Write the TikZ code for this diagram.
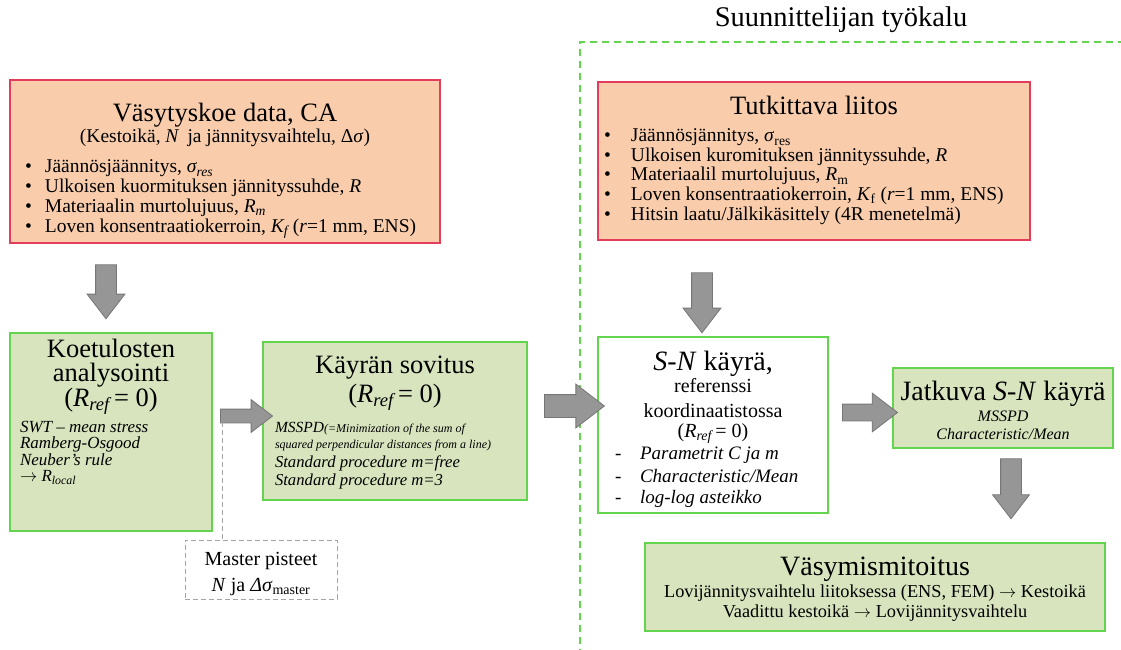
\documentclass[tikz,border=0pt]{standalone}
\usepackage{fontspec}
\setmainfont{Liberation Serif}
\usepackage{xcolor}
\usetikzlibrary{shapes.arrows, positioning}

\definecolor{peachfill}{RGB}{249,205,172}
\definecolor{peachdraw}{RGB}{226,62,92}
\definecolor{olivefill}{RGB}{216,228,190}
\definecolor{greendraw}{RGB}{98,212,78}
\definecolor{arrowfill}{RGB}{150,150,150}
\definecolor{arrowdraw}{RGB}{118,118,118}
\definecolor{masterdraw}{RGB}{165,165,165}

\newlength{\listw}
\newlength{\listind}
\newcommand{\hd}{\fontsize{26.5}{28}\selectfont}
\newcommand{\hdl}{\fontsize{28}{30}\selectfont}
\newcommand{\bul}[1]{\makebox[\listw][l]{\makebox[\listind][l]{•}#1}}
\newcommand{\dsh}[1]{\makebox[\listw][l]{\makebox[\listind][l]{-}\textit{#1}}}
\newcommand{\lft}[1]{\makebox[\listw][l]{#1}}
\newcommand{\rref}{(\textit{R\textsubscript{ref}}\,= 0)}
\newcommand{\topgap}[1]{\rule{0pt}{#1}}
\newcommand{\botgap}[1]{\rule[-#1]{0pt}{#1}}
\newenvironment{boxtext}[1]{\begin{minipage}[t]{#1}\centering\lineskiplimit=-100pt\lineskip=0pt}{\end{minipage}}

\begin{document}
\begin{tikzpicture}[
    x=1pt, y=-1pt,
    inbox/.style={rectangle, draw=peachdraw, fill=peachfill, line width=1.2pt, inner sep=0pt},
    stepbox/.style={rectangle, draw=greendraw, fill=olivefill, line width=1.2pt, inner sep=0pt},
    masterbox/.style={rectangle, draw=masterdraw, dash pattern=on 5pt off 3pt, line width=0.9pt, inner sep=0pt},
    blockarrow/.style={single arrow, draw=arrowdraw, fill=arrowfill, line width=0.8pt, inner xsep=0pt, single arrow tip angle=75},
    tooldash/.style={draw=greendraw, line width=1.4pt, dash pattern=on 7pt off 5pt},
    masterline/.style={draw=masterdraw, line width=0.9pt, dash pattern=on 5pt off 3pt}
]
    \useasboundingbox (0,0) rectangle (1121,650);

    % designer's tool region
    \draw[tooldash] (1125,42) -- (580,42) -- (580,655);
    \node[font=\fontsize{28.5}{31}\selectfont, anchor=base] (tooltitle) at (841,27) {Suunnittelijan työkalu};

    \node[inbox, minimum width=430pt, minimum height=163pt, font=\fontsize{19.5}{19.7}\selectfont] (testdata) at (225,161.5) {%
        \begin{boxtext}{430pt}
        \setlength{\listw}{400pt}\setlength{\listind}{20pt}%
        \topgap{42pt}{\hd Väsytyskoe data, CA}\\[1.3pt]
        (Kestoikä, \textit{N}\, ja jännitysvaihtelu, Δ\textit{σ})\\[10.3pt]
        \bul{Jäännösjäännitys, \textit{σ\textsubscript{res}}}\\
        \bul{Ulkoisen kuormituksen jännityssuhde, \textit{R}}\\
        \bul{Materiaalin murtolujuus, \textit{R\textsubscript{m}}}\\
        \bul{Loven konsentraatiokerroin, \textit{K\textsubscript{f}} (\textit{r}=1 mm, ENS)}\botgap{11pt}
        \end{boxtext}};

    \node[inbox, minimum width=432pt, minimum height=158pt, font=\fontsize{19.5}{19.5}\selectfont] (joint) at (814,161) {%
        \begin{boxtext}{432pt}
        \setlength{\listw}{420pt}\setlength{\listind}{27pt}%
        \topgap{33pt}{\hd Tutkittava liitos}\\[7.5pt]
        \bul{Jäännösjännitys, \textit{σ}\textsubscript{res}}\\
        \bul{Ulkoisen kuromituksen jännityssuhde, \textit{R}}\\
        \bul{Materiaalil murtolujuus, \textit{R}\textsubscript{m}}\\
        \bul{Loven konsentraatiokerroin, \textit{K}\textsubscript{f} (\textit{r}=1 mm, ENS)}\\
        \bul{Hitsin laatu/Jälkikäsittely (4R menetelmä)}\botgap{20pt}
        \end{boxtext}};

    \node[stepbox, minimum width=202pt, minimum height=198pt, font=\fontsize{17}{16.5}\selectfont] (analysis) at (111,432) {%
        \begin{boxtext}{202pt}
        \setlength{\listw}{182pt}%
        \topgap{24pt}{\hd Koetulosten}\\[8pt]
        {\hd analysointi}\\[8pt]
        {\hd \rref}\\[9.5pt]
        \lft{\textit{SWT – mean stress}}\\
        \lft{\textit{Ramberg-Osgood}}\\
        \lft{\textit{Neuber’s rule}}\\
        \lft{$\rightarrow$ \textit{R\textsubscript{local}}}\botgap{49.5pt}
        \end{boxtext}};

    \node[stepbox, minimum width=264pt, minimum height=158pt, font=\fontsize{16.7}{16}\selectfont] (fit) at (395,421) {%
        \begin{boxtext}{264pt}
        \setlength{\listw}{240pt}%
        \topgap{31pt}{\hd Käyrän sovitus}\\[13pt]
        {\hd \rref}\\[14pt]
        \lft{\textit{{\fontsize{15.5}{16}\selectfont MSSPD}{\fontsize{12}{16}\selectfont(=Minimization of the sum of}}}\\
        \lft{\textit{\fontsize{12}{16}\selectfont squared perpendicular distances from a line)}}\\[3pt]
        \lft{\textit{Standard procedure m=free}}\\[2pt]
        \lft{\textit{Standard procedure m=3}}\botgap{15pt}
        \end{boxtext}};

    \node[stepbox, fill=white, minimum width=230pt, minimum height=176pt, font=\fontsize{20}{21}\selectfont] (sncurve) at (713,425) {%
        \begin{boxtext}{230pt}
        \setlength{\listw}{196pt}\setlength{\listind}{25pt}%
        \topgap{33pt}{\hdl\textit{S-N} käyrä,}\\[1pt]
        referenssi\\[4pt]
        koordinaatistossa\\[-1pt]
        \rref\\[1pt]
        {\fontsize{19}{21}\selectfont\dsh{Parametrit C ja m}}\\[2pt]
        {\fontsize{19}{21}\selectfont\dsh{Characteristic/Mean}}\\
        {\fontsize{19}{21}\selectfont\dsh{log-log asteikko}}\botgap{10pt}
        \end{boxtext}};

    \node[stepbox, minimum width=220pt, minimum height=80pt, font=\fontsize{16}{18}\selectfont] (contcurve) at (1003,408) {%
        \begin{boxtext}{220pt}
        \topgap{32pt}{\hdl Jatkuva \textit{S-N} käyrä}\\[3pt]
        \textit{MSSPD}\\
        \textit{Characteristic/Mean}\botgap{9pt}
        \end{boxtext}};

    \node[stepbox, minimum width=460pt, minimum height=88pt, font=\fontsize{18.3}{20}\selectfont] (design) at (875,587) {%
        \begin{boxtext}{460pt}
        \topgap{32pt}{\hdl Väsymismitoitus}\\[2pt]
        Lovijännitysvaihtelu liitoksessa (ENS, FEM) $\rightarrow$ Kestoikä\\
        Vaadittu kestoikä $\rightarrow$ Lovijännitysvaihtelu\botgap{14pt}
        \end{boxtext}};

    \node[masterbox, minimum width=152pt, minimum height=59pt, font=\fontsize{20}{26}\selectfont] (master) at (261,569.5) {%
        \begin{boxtext}{152pt}
        \topgap{25pt}Master pisteet\\
        \textit{N} ja \textit{Δσ}\textsubscript{master}\botgap{8pt}
        \end{boxtext}};

    % block arrows
    \node[blockarrow, minimum height=54pt, inner ysep=10pt, single arrow head extend=8.5pt, rotate=-90] (down1) at (106,285) {};
    \node[blockarrow, minimum height=52pt, inner ysep=6.5pt, single arrow head extend=9.5pt] (right1) at (242,416) {};
    \node[blockarrow, minimum height=60pt, inner ysep=11pt, single arrow head extend=10.5pt] (right2) at (567,406) {};
    \node[blockarrow, minimum height=55pt, inner ysep=8pt, single arrow head extend=11pt] (right3) at (864.5,412.5) {};
    \node[blockarrow, minimum height=60pt, inner ysep=10pt, single arrow head extend=8.5pt, rotate=-90] (down2) at (702,296) {};
    \node[blockarrow, minimum height=60pt, inner ysep=10pt, single arrow head extend=8pt, rotate=-90] (down3) at (1011,482) {};

    \coordinate (tap) at (222,422);
    \path[masterline] (tap) -- (tap |- master.north);
\end{tikzpicture}
\end{document}
